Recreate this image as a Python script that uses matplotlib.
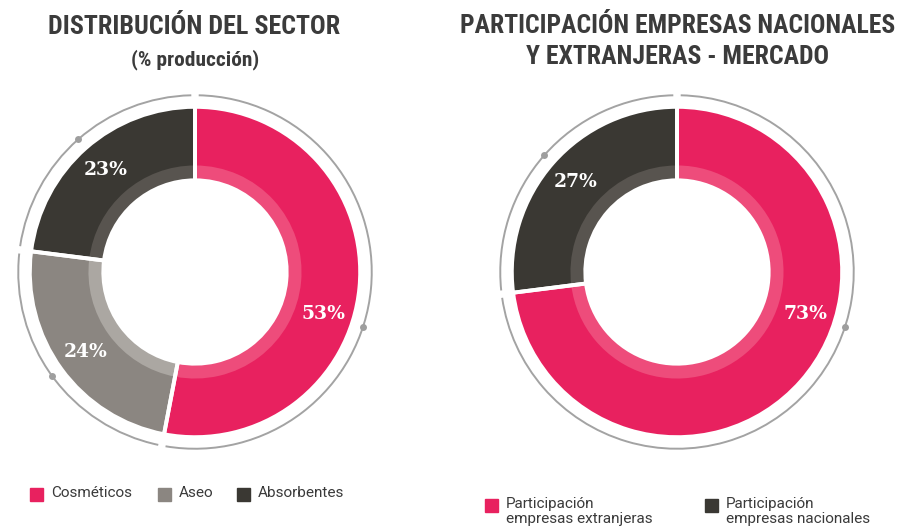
import numpy as np
import matplotlib
matplotlib.use("Agg")
import matplotlib.pyplot as plt
from matplotlib.patches import Arc, Rectangle
from matplotlib import font_manager

# ---------------- data ----------------
sector_labels = ["Cosméticos", "Aseo", "Absorbentes"]
sector_values = [53, 24, 23]
market_labels = ["Participación\nempresas extranjeras", "Participación\nempresas nacionales"]
market_values = [73, 27]

title_left = "DISTRIBUCIÓN DEL SECTOR"
subtitle_left = "(% producción)"
title_right_1 = "PARTICIPACIÓN EMPRESAS NACIONALES"
title_right_2 = "Y EXTRANJERAS - MERCADO"

# ---------------- style ----------------
PINK, PINK_B = "#E8215F", "#EE4C7B"
GRAY, GRAY_B = "#8B8681", "#ABA7A2"
DARK, DARK_B = "#3A3833", "#58544F"
sector_colors = [PINK, GRAY, DARK]
sector_band = [PINK_B, GRAY_B, DARK_B]
market_colors = [PINK, DARK]
market_band = [PINK_B, DARK_B]

W, H = 900, 532
fig = plt.figure(figsize=(W / 100, H / 100), dpi=100)

names = {f.name for f in font_manager.fontManager.ttflist}
cands = ['Liberation Sans Narrow', 'Roboto Condensed', 'DejaVu Sans Condensed',
         'Open Sans Condensed', 'Arial Narrow', 'Noto Sans Display']
title_family = next((c for c in cands if c in names), 'DejaVu Sans')
title_font = dict(family=[title_family, 'DejaVu Sans'], fontstretch='condensed',
                  weight='bold', color='#3B3B3B')
legend_font = dict(family=['Roboto', 'DejaVu Sans'], color='#3A3A3A')
label_font = dict(family=['DejaVu Serif'], weight='bold', color='white')

BIG_LABEL_ANGLE = -18  # label/dot angle for the dominant slice


def fx(px):
    return px / W


def fy(py):
    return 1 - py / H


def donut(cx, cy, values, colors, bands):
    size = 370
    ax = fig.add_axes([fx(cx - size / 2), fy(cy + size / 2), size / W, size / H])
    ax.pie(values, radius=1.0, colors=colors, startangle=90, counterclock=False,
           wedgeprops=dict(width=0.445, linewidth=0))
    ax.pie(values, radius=0.645, colors=bands, startangle=90, counterclock=False,
           wedgeprops=dict(width=0.09, linewidth=0))
    ax.pie(values, radius=1.0, colors=['none'] * len(values), startangle=90,
           counterclock=False,
           wedgeprops=dict(width=0.445, edgecolor='white', linewidth=2.8))
    total = float(sum(values))
    cum = np.concatenate([[0], np.cumsum(values)]) / total
    angles = 90 - 360 * cum
    gap = 1.2
    R = 1.07
    for i, v in enumerate(values):
        a0, a1 = angles[i], angles[i + 1]
        ax.add_patch(Arc((0, 0), 2 * R, 2 * R, theta1=a1 + gap, theta2=a0 - gap,
                         color='#A3A3A3', lw=1.4))
        if v / total > 0.5:
            la = BIG_LABEL_ANGLE
        else:
            la = (a0 + a1) / 2
        t = np.deg2rad(la)
        ax.plot([R * np.cos(t)], [R * np.sin(t)], 'o', ms=5, color='#9E9E9E', mec='none')
        ax.text(0.82 * np.cos(t), 0.82 * np.sin(t), f"{v}%", ha='center', va='center',
                fontsize=13.5, **label_font)
    ax.set_xlim(-1.12, 1.12)
    ax.set_ylim(-1.12, 1.12)
    ax.set_aspect('equal')
    ax.axis('off')
    return ax


donut(195, 272, sector_values, sector_colors, sector_band)
donut(677, 272, market_values, market_colors, market_band)

renderer = fig.canvas.get_renderer()


def fitted_text(x, y, s, target_w, size0=20, max_size=24):
    t = fig.text(fx(x), fy(y), s, ha='center', va='center', fontsize=size0, **title_font)
    w = t.get_window_extent(renderer).width
    t.set_fontsize(min(max_size, size0 * target_w / w))
    return t


# titles (sized to the reference widths)
fitted_text(194, 27, title_left, 292)
fitted_text(195, 60, subtitle_left, 128)
fitted_text(678, 26, title_right_1, 435)
fitted_text(677, 57, title_right_2, 303)


# legends
def legend_items(xs, y, labels, colors):
    for x, lab, c in zip(xs, labels, colors):
        fig.patches.append(Rectangle((fx(x), fy(y + 13)), 13 / W, 13 / H,
                                     transform=fig.transFigure, color=c, figure=fig))
        fig.text(fx(x + 21), fy(y - 2), lab, ha='left', va='top', fontsize=11,
                 linespacing=1.05, **legend_font)


legend_items([30, 158, 237], 488, sector_labels, sector_colors)
legend_items([485, 705], 499, market_labels, market_colors)

fig.savefig("out.png", dpi=100)
